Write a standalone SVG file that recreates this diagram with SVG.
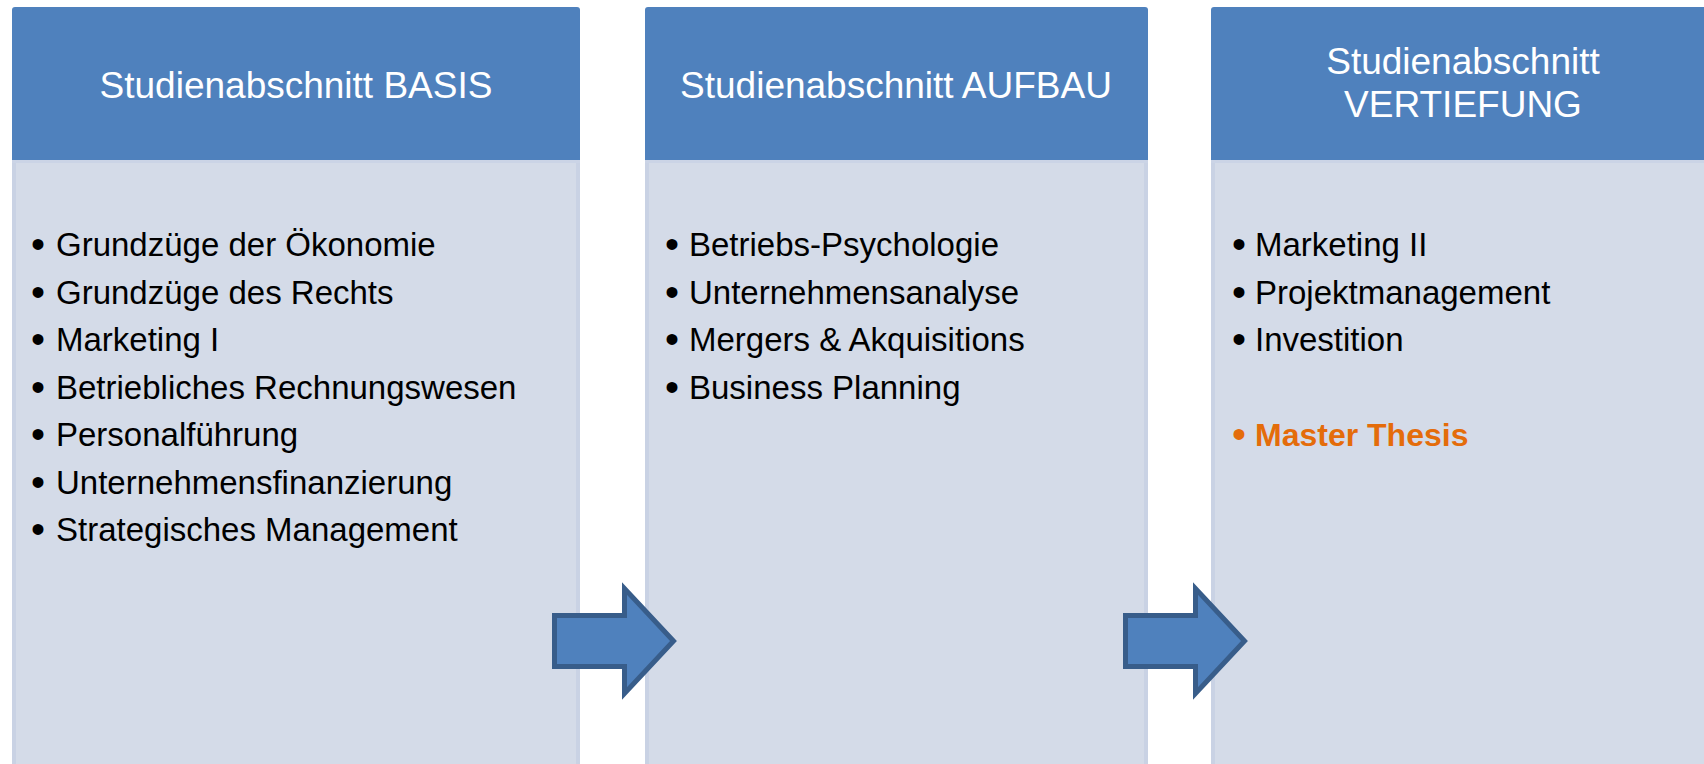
<svg xmlns="http://www.w3.org/2000/svg" width="1704" height="764" viewBox="0 0 1704 764">
<style>
.hdr{fill:#4F81BD}
.body{fill:#D4DBE8}
.band{fill:#CBD4E6}
.edge{fill:#C9D2E4}
.ht{font-family:"Liberation Sans",Arial,sans-serif;font-size:37px;fill:#FFFFFF;text-anchor:middle}
.bt{font-family:"Liberation Sans",Arial,sans-serif;font-size:33px;fill:#000000}
.bl{font-family:"Liberation Sans",Arial,sans-serif;font-size:40px;fill:#000000}
.or{fill:#E46C0A;font-weight:bold}
.arrow{fill:#4F81BD;stroke:#385D8A;stroke-width:5;stroke-linejoin:miter}
</style>
<defs>
<path id="arr" class="arrow" d="M554.5,615.5 H624.5 V588.5 L673.5,641 L624.5,693.5 V666.5 H554.5 Z"/>
</defs>
<rect width="1704" height="764" fill="#FFFFFF"/>
<g id="panel-basis">
<rect class="body" x="12" y="159" width="568" height="610"/>
<rect class="edge" x="12" y="159" width="4" height="610"/>
<rect class="edge" x="576" y="159" width="4" height="610"/>
<rect class="band" x="12" y="159" width="568" height="4"/>
<path class="hdr" d="M12,160 V10 Q12,7 15,7 H577 Q580,7 580,10 V160 Z"/>
<text class="ht" x="296" y="98">Studienabschnitt BASIS</text>
<text class="bl" x="31" y="258">•</text><text class="bt" x="56" y="256">Grundzüge der Ökonomie</text>
<text class="bl" x="31" y="305.5">•</text><text class="bt" x="56" y="303.5">Grundzüge des Rechts</text>
<text class="bl" x="31" y="353">•</text><text class="bt" x="56" y="351">Marketing I</text>
<text class="bl" x="31" y="400.5">•</text><text class="bt" x="56" y="398.5">Betriebliches Rechnungswesen</text>
<text class="bl" x="31" y="448">•</text><text class="bt" x="56" y="446">Personalführung</text>
<text class="bl" x="31" y="495.5">•</text><text class="bt" x="56" y="493.5">Unternehmensfinanzierung</text>
<text class="bl" x="31" y="543">•</text><text class="bt" x="56" y="541">Strategisches Management</text>
</g>
<g id="panel-aufbau">
<rect class="body" x="645" y="159" width="503" height="610"/>
<rect class="edge" x="645" y="159" width="4" height="610"/>
<rect class="edge" x="1144" y="159" width="4" height="610"/>
<rect class="band" x="645" y="159" width="503" height="4"/>
<path class="hdr" d="M645,160 V10 Q645,7 648,7 H1145 Q1148,7 1148,10 V160 Z"/>
<text class="ht" x="896" y="98">Studienabschnitt AUFBAU</text>
<text class="bl" x="665" y="258">•</text><text class="bt" x="689" y="256">Betriebs-Psychologie</text>
<text class="bl" x="665" y="305.5">•</text><text class="bt" x="689" y="303.5">Unternehmensanalyse</text>
<text class="bl" x="665" y="353">•</text><text class="bt" x="689" y="351">Mergers &amp; Akquisitions</text>
<text class="bl" x="665" y="400.5">•</text><text class="bt" x="689" y="398.5">Business Planning</text>
</g>
<g id="panel-vertiefung">
<rect class="body" x="1211" y="159" width="500" height="610"/>
<rect class="edge" x="1211" y="159" width="4" height="610"/>
<rect class="band" x="1211" y="159" width="500" height="4"/>
<path class="hdr" d="M1211,160 V10 Q1211,7 1214,7 H1710 V160 Z"/>
<text class="ht" x="1463" y="74">Studienabschnitt</text>
<text class="ht" x="1463" y="117">VERTIEFUNG</text>
<text class="bl" x="1232" y="258">•</text><text class="bt" x="1255" y="256">Marketing II</text>
<text class="bl" x="1232" y="305.5">•</text><text class="bt" x="1255" y="303.5">Projektmanagement</text>
<text class="bl" x="1232" y="353">•</text><text class="bt" x="1255" y="351">Investition</text>
<text class="bl or" x="1232" y="448" style="font-weight:normal">•</text><text class="bt or" x="1255" y="446" style="font-size:32px">Master Thesis</text>
</g>
<g id="connectors">
<use href="#arr"/>
<use href="#arr" transform="translate(571,0)"/>
</g>
</svg>
